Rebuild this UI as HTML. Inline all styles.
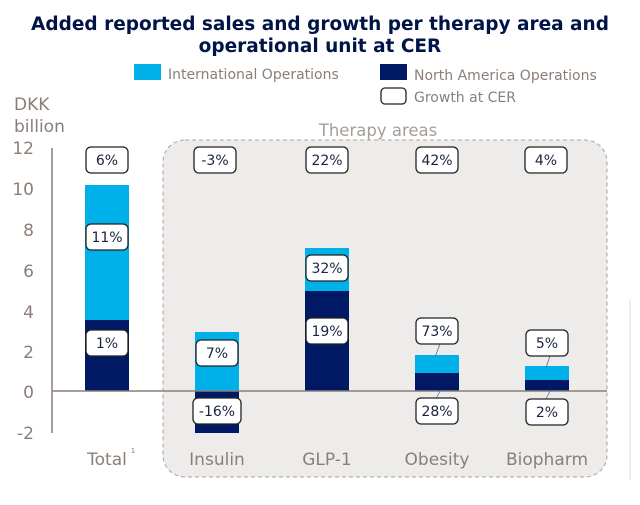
<!DOCTYPE html><html><head><style>body{margin:0;background:#fff}</style></head><body>
<svg width="640" height="500" xmlns="http://www.w3.org/2000/svg" font-family="DejaVu Sans, Liberation Sans, sans-serif">
<text x="320" y="30" text-anchor="middle" font-size="18.5" font-weight="bold" fill="#001447">Added reported sales and growth per therapy area and</text>
<text x="320" y="52" text-anchor="middle" font-size="18.5" font-weight="bold" fill="#001447">operational unit at CER</text>
<rect x="134" y="64" width="27" height="16" fill="#00b0e8"/>
<text x="168" y="79" font-size="14" fill="#8a7f78">International Operations</text>
<rect x="380" y="64" width="27" height="16" fill="#001965"/>
<text x="414" y="80" font-size="14" fill="#8a7f78">North America Operations</text>
<rect x="381" y="88" width="25" height="16" rx="4" fill="#fff" stroke="#222" stroke-width="1.3"/>
<text x="414" y="102" font-size="14" fill="#8a7f78">Growth at CER</text>
<text x="14" y="110" font-size="17" fill="#8a7f78">DKK</text>
<text x="14" y="132" font-size="17" fill="#8a7f78">billion</text>
<rect x="163" y="140" width="444" height="337" rx="22" fill="#eeeceb" stroke="#aaa39e" stroke-dasharray="4,3"/>
<text x="378" y="136" text-anchor="middle" font-size="16.5" fill="#a59e98">Therapy areas</text>
<g font-size="17" fill="#8a7f78" text-anchor="end">
<text x="34" y="154">12</text><text x="34" y="195">10</text><text x="34" y="236">8</text><text x="34" y="277">6</text><text x="34" y="318">4</text><text x="34" y="358">2</text><text x="34" y="398">0</text><text x="34" y="439">-2</text></g>
<line x1="52" y1="148" x2="52" y2="433" stroke="#8a7f78" stroke-width="1.5"/>
<rect x="85" y="185" width="44" height="206" fill="#00b0e8"/><rect x="85" y="320" width="44" height="71" fill="#001965"/>
<rect x="195" y="332" width="44" height="59" fill="#00b0e8"/><rect x="195" y="391" width="44" height="42" fill="#001965"/>
<rect x="305" y="248" width="44" height="143" fill="#00b0e8"/><rect x="305" y="291" width="44" height="100" fill="#001965"/>
<rect x="415" y="355" width="44" height="36" fill="#00b0e8"/><rect x="415" y="373" width="44" height="18" fill="#001965"/>
<rect x="525" y="366" width="44" height="25" fill="#00b0e8"/><rect x="525" y="380" width="44" height="11" fill="#001965"/>
<line x1="52" y1="391" x2="607" y2="391" stroke="#8a7f78" stroke-width="1.5"/>
<g stroke="#5a6aa0" stroke-width="0.8"><line x1="440" y1="344" x2="435" y2="357"/><line x1="440" y1="391" x2="436" y2="399"/><line x1="550" y1="356" x2="546" y2="368"/><line x1="550" y1="391" x2="546" y2="399"/></g>
<g font-size="14" fill="#1a2340" text-anchor="middle">
<g stroke="#222" stroke-width="1.3" fill="#fff">
<rect x="86" y="147" width="42" height="26" rx="5"/><rect x="194" y="147" width="42" height="26" rx="5"/><rect x="306" y="147" width="42" height="26" rx="5"/><rect x="416" y="147" width="42" height="26" rx="5"/><rect x="525" y="147" width="42" height="26" rx="5"/>
<rect x="86" y="224" width="42" height="26" rx="5"/><rect x="86" y="330" width="42" height="26" rx="5"/>
<rect x="196" y="340" width="42" height="26" rx="5"/><rect x="193" y="398" width="48" height="26" rx="5"/>
<rect x="306" y="255" width="42" height="26" rx="5"/><rect x="306" y="318" width="42" height="26" rx="5"/>
<rect x="416" y="318" width="42" height="26" rx="5"/><rect x="416" y="398" width="42" height="26" rx="5"/>
<rect x="526" y="330" width="42" height="26" rx="5"/><rect x="526" y="399" width="42" height="26" rx="5"/></g>
<text x="107" y="165">6%</text><text x="215" y="165">-3%</text><text x="327" y="165">22%</text><text x="437" y="165">42%</text><text x="546" y="165">4%</text>
<text x="107" y="242">11%</text><text x="107" y="348">1%</text>
<text x="217" y="358">7%</text><text x="217" y="416">-16%</text>
<text x="327" y="273">32%</text><text x="327" y="336">19%</text>
<text x="437" y="336">73%</text><text x="437" y="416">28%</text>
<text x="547" y="348">5%</text><text x="547" y="417">2%</text></g>
<g font-size="17" fill="#8a7f78" text-anchor="middle">
<text x="107" y="465">Total</text><text x="133" y="453" font-size="7">1</text><text x="217" y="465">Insulin</text><text x="327" y="465">GLP-1</text><text x="437" y="465">Obesity</text><text x="547" y="465">Biopharm</text></g>
<line x1="630" y1="300" x2="630" y2="480" stroke="#ddd"/>
</svg></body></html>
